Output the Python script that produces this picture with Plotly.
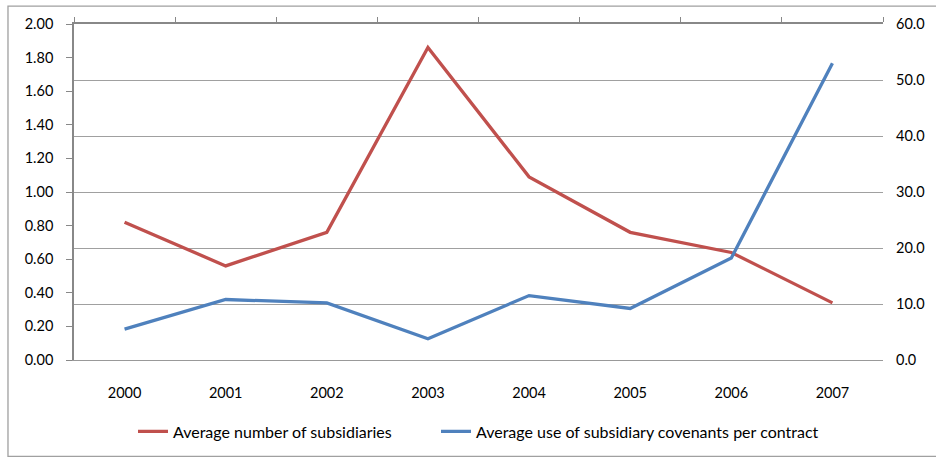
import plotly.graph_objects as go

years = ["2000", "2001", "2002", "2003", "2004", "2005", "2006", "2007"]
avg_subsidiaries = [0.82, 0.56, 0.76, 1.86, 1.09, 0.76, 0.64, 0.34]
avg_covenants = [5.5, 10.8, 10.2, 3.8, 11.5, 9.2, 18.2, 53.0]
left_ticks = [0.0, 0.2, 0.4, 0.6, 0.8, 1.0, 1.2, 1.4, 1.6, 1.8, 2.0]
right_ticks = [0, 10, 20, 30, 40, 50, 60]

xpos = list(range(len(years)))
FONT = "Lato"
RED = "#C0504D"
BLUE = "#4F81BD"

fig = go.Figure()
fig.add_trace(go.Scatter(x=xpos, y=avg_subsidiaries, mode="lines",
                         name="Average number of subsidiaries",
                         line=dict(color=RED, width=3.3), yaxis="y",
                         legend="legend"))
fig.add_trace(go.Scatter(x=xpos, y=avg_covenants, mode="lines",
                         name="Average use of subsidiary covenants per contract",
                         line=dict(color=BLUE, width=3.3), yaxis="y2", xaxis="x",
                         legend="legend2"))
# invisible trace to activate top axis
fig.add_trace(go.Scatter(x=[None], y=[None], xaxis="x2", yaxis="y", showlegend=False))

legend_common = dict(orientation="h", yanchor="middle", y=-0.213, xanchor="left",
                     font=dict(family=FONT, size=16, color="#000"),
                     bgcolor="rgba(0,0,0,0)")

fig.update_layout(
    width=936, height=460,
    margin=dict(l=74, r=53, t=24, b=98),
    paper_bgcolor="white", plot_bgcolor="white",
    font=dict(family=FONT, size=14, color="#000"),
    xaxis=dict(range=[-0.5, 7.5], tickvals=xpos, ticktext=years,
               tickfont=dict(size=14.5),
               showgrid=False, zeroline=False, showline=True, linecolor="#999",
               linewidth=1.3, ticks="", ticklabelstandoff=19),
    xaxis2=dict(range=[-0.5, 7.5], overlaying="x", side="top",
                tickvals=[i - 0.5 for i in range(len(years) + 1)],
                showticklabels=False, ticks="outside", ticklen=5, tickcolor="#888",
                showgrid=False, zeroline=False, showline=True, linecolor="#888",
                linewidth=1.5),
    yaxis=dict(range=[0, 2], tickvals=left_ticks, tickformat=".2f",
               tickfont=dict(size=14.5),
               showgrid=False, zeroline=False, showline=True, linecolor="#888",
               linewidth=1.5, ticks="outside", ticklen=6, tickcolor="#888",
               ticklabelstandoff=10),
    yaxis2=dict(range=[0, 60], tickvals=right_ticks, tickformat=".1f",
                tickfont=dict(size=14.5),
                overlaying="y", side="right", showgrid=True, gridcolor="#A0A0A0",
                gridwidth=1.2, zeroline=False, showline=False, ticks="",
                ticklabelstandoff=12),
    legend=dict(x=(133 - 74) / 809, **legend_common),
    legend2=dict(x=(436 - 74) / 809, **legend_common),
    showlegend=True,
)

fig.add_shape(type="rect", xref="paper", yref="paper",
              x0=-0.0816, x1=1.08, y0=-0.287, y1=1.0533,
              line=dict(color="#A0A0A0", width=1.3), fillcolor="rgba(0,0,0,0)",
              layer="below")

fig.write_html("out.html")
